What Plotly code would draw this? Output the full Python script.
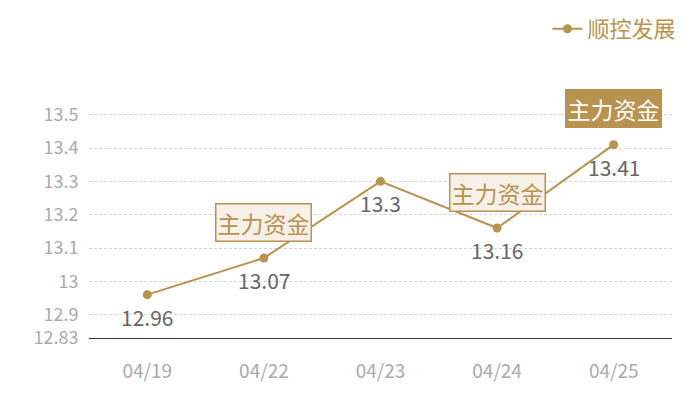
import plotly.graph_objects as go

dates = ["04/19", "04/22", "04/23", "04/24", "04/25"]
values = [12.96, 13.07, 13.30, 13.16, 13.41]
series_name = "顺控发展"
flag_dates = ["04/22", "04/24", "04/25"]
flag_text = "主力资金"
y_min = 12.83
y_max = 13.544
y_ticks = [12.83, 12.9, 13.0, 13.1, 13.2, 13.3, 13.4, 13.5, 13.544]
y_ticktext = ["12.83", "12.9", "13", "13.1", "13.2", "13.3", "13.4", "13.5", ""]

GOLD = "#b8924f"
FONT = "Noto Sans CJK SC, Noto Sans, sans-serif"

fig = go.Figure()
fig.add_trace(go.Scatter(
    x=dates, y=values, mode="lines+markers", name=series_name,
    line=dict(color=GOLD, width=2),
    marker=dict(color=GOLD, size=9),
))

for d, v in zip(dates, values):
    fig.add_annotation(
        x=d, y=v, xref="x", yref="y", text=f"{v:g}", showarrow=False,
        yshift=-22, font=dict(size=21, color="#666666", family=FONT),
    )

for i, d in enumerate(flag_dates):
    v = values[dates.index(d)]
    last = (i == len(flag_dates) - 1)
    fig.add_annotation(
        x=d, y=v, xref="x", yref="y", text=flag_text, showarrow=False,
        yshift=36,
        font=dict(size=23, color="#ffffff" if last else GOLD, family=FONT),
        bgcolor=GOLD if last else "#f6f0e8",
        bordercolor=GOLD, borderwidth=1.5, borderpad=1,
    )

fig.update_layout(
    width=700, height=400,
    margin=dict(l=81, r=36, t=92, b=70, autoexpand=False),
    paper_bgcolor="white", plot_bgcolor="white",
    font=dict(family=FONT),
    showlegend=True,
    legend=dict(xref="container", yref="container", x=0.962, xanchor="right",
                y=1.0, yanchor="top",
                font=dict(size=22, color=GOLD, family=FONT),
                itemwidth=30, bgcolor="rgba(0,0,0,0)"),
    xaxis=dict(
        type="category", showgrid=False, zeroline=False,
        showline=True, linecolor="#333333", linewidth=1,
        ticks="outside", ticklen=16, tickcolor="rgba(0,0,0,0)",
        tickfont=dict(size=19, color="#aaaaaa", family=FONT),
        range=[-0.5, 4.5],
    ),
    yaxis=dict(
        range=[y_min, y_max], tickvals=y_ticks, ticktext=y_ticktext,
        showgrid=True, gridcolor="#d6d6d6", griddash="3px,2px", gridwidth=1,
        zeroline=False, showline=False,
        ticks="outside", ticklen=6, tickcolor="rgba(0,0,0,0)",
        tickfont=dict(size=18, color="#aaaaaa", family=FONT),
    ),
)

fig.write_html("out.html")
